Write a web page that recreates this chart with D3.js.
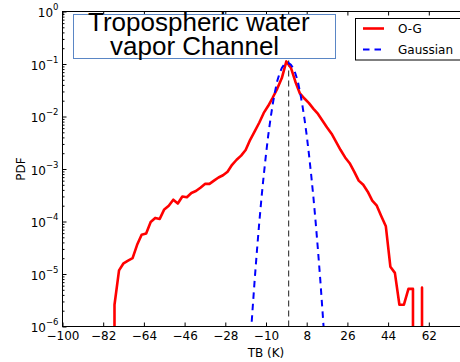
<!DOCTYPE html>
<html>
<head>
<meta charset="utf-8">
<script src="https://cdn.jsdelivr.net/npm/d3@7"></script>
<style>
  html, body { margin: 0; padding: 0; background: #fff; }
  svg { display: block; }
</style>
</head>
<body>
<svg id="chart" width="460" height="362"></svg>
<script>
// O-G departure histogram (2 K bins), PDF values; 0 = empty bin
const binCenters = [-79, -77, -75, -73, -71, -69, -67, -65, -63, -61, -59, -57, -55, -53, -51, -49, -47, -45, -43, -41,
  -39, -37, -35, -33, -31, -29, -27, -25, -23, -21, -19, -17, -15, -13, -11, -9, -7, -5, -3, -1,
  1, 3, 5, 7, 9, 11, 13, 15, 17, 19, 21, 23, 25, 27, 29, 31, 33, 35, 37, 39,
  41, 43, 45, 47, 49, 51, 53, 55, 57, 59, 61];
const ogPdf = [0, 2.6e-6, 1.17e-5, 1.6e-5, 1.8e-5, 2.0e-5, 3.6e-5, 5.6e-5, 5.9e-5, 9.8e-5, 1.17e-4, 1.12e-4, 1.7e-4, 2.0e-4, 2.6e-4, 2.2e-4, 3.0e-4, 2.9e-4, 3.5e-4, 3.8e-4,
  4.4e-4, 5.2e-4, 5.2e-4, 6.0e-4, 6.9e-4, 7.6e-4, 8.9e-4, 1.2e-3, 1.5e-3, 1.8e-3, 2.3e-3, 3.6e-3, 5.2e-3, 7.6e-3, 1.17e-2, 1.6e-2, 2.3e-2, 3.4e-2, 5.4e-2, 0.112,
  8.5e-2, 4.6e-2, 2.75e-2, 2.2e-2, 1.8e-2, 1.4e-2, 1.12e-2, 8.3e-3, 6.2e-3, 4.7e-3, 3.3e-3, 2.3e-3, 1.66e-3, 1.29e-3, 8.9e-4, 6.0e-4, 5.0e-4, 3.7e-4, 2.5e-4, 2.0e-4,
  1.26e-4, 8.1e-5, 1.38e-5, 1.05e-5, 2.6e-6, 2.6e-6, 5.2e-6, 5.2e-6, 0, 5.5e-6, 0];

// Fitted Gaussian reference curve
const gaussX = [-17, -16, -15, -14, -13, -12, -11, -10, -9, -8, -7, -6, -5, -4, -3, -2, -1,
  0, 1, 2, 3, 4, 5, 6, 7, 8, 9, 10, 11, 12, 13, 14, 15, 16];
const gaussPdf = [4.5e-7, 1.95e-6, 7.8e-6, 2.8e-5, 9.3e-5, 2.8e-4, 7.6e-4, 1.9e-3, 4.4e-3, 9.1e-3, 1.74e-2, 3.0e-2, 4.8e-2, 6.6e-2, 8.4e-2, 0.097, 0.104,
  0.104, 0.097, 8.4e-2, 6.6e-2, 4.8e-2, 3.0e-2, 1.74e-2, 9.1e-3, 4.4e-3, 1.9e-3, 7.6e-4, 2.8e-4, 9.3e-5, 2.8e-5, 7.8e-6, 1.95e-6, 4.5e-7];

const referenceTB = 0;

const xTicks = [-100, -82, -64, -46, -28, -10, 8, 26, 44, 62];
const yTicks = [1e-6, 1e-5, 1e-4, 1e-3, 1e-2, 1e-1, 1];
const yTickExponents = ["\u22126", "\u22125", "\u22124", "\u22123", "\u22122", "\u22121", "0"];

const titleLines = ["Tropospheric water", "vapor Channel"];
const legendLabels = ["O-G", "Gaussian"];
const xLabel = "TB (K)";
const yLabel = "PDF";

const FONT = "'DejaVu Sans', sans-serif";
const svg = d3.select("#chart");

const x = d3.scaleLinear().domain([-100, 80]).range([62.5, 469.5]);
const y = d3.scaleLog().domain([1e-6, 1]).range([326.5, 11.5]);
const [x0, x1] = x.range();
const [y0, y1] = y.range();

svg.append("defs").append("clipPath").attr("id", "plotClip")
  .append("rect").attr("x", x0).attr("y", y1).attr("width", x1 - x0).attr("height", y0 - y1);

// empty bins are pushed far below the axis, giving vertical drops
const yv = p => y(Math.max(p, 1e-300));

const plot = svg.append("g").attr("clip-path", "url(#plotClip)");

plot.append("line")
  .attr("x1", x(referenceTB)).attr("x2", x(referenceTB))
  .attr("y1", y0).attr("y2", y1)
  .attr("stroke", "#444").attr("stroke-width", 1.2).attr("stroke-dasharray", "6,4");

const ogLine = d3.line().x((d, i) => x(binCenters[i])).y(d => yv(d));
plot.append("path").datum(ogPdf)
  .attr("d", ogLine)
  .attr("fill", "none").attr("stroke", "#ff0000").attr("stroke-width", 2.6)
  .attr("stroke-linejoin", "round");

const gLine = d3.line().x((d, i) => x(gaussX[i])).y(d => yv(d));
plot.append("path").datum(gaussPdf)
  .attr("d", gLine)
  .attr("fill", "none").attr("stroke", "#0000ff").attr("stroke-width", 2)
  .attr("stroke-dasharray", "6.5,5");

// axes with inward ticks
const gx = svg.append("g").attr("transform", `translate(0,${y0})`)
  .call(d3.axisBottom(x).tickValues(xTicks).tickSize(-4).tickSizeOuter(0).tickPadding(5)
    .tickFormat(d => d3.format("d")(d).replace("-", "\u2212")));
gx.select(".domain").remove();
gx.selectAll("text").attr("font-family", FONT).attr("font-size", 12).attr("fill", "#000");

const gt = svg.append("g").attr("transform", `translate(0,${y1})`)
  .call(d3.axisTop(x).tickValues(xTicks).tickSize(-4).tickSizeOuter(0).tickFormat(""));
gt.select(".domain").remove();

const minorTicks = [];
yTicks.slice(0, -1).forEach(t => { for (let k = 2; k <= 9; k++) minorTicks.push(t * k); });

const gym = svg.append("g").attr("transform", `translate(${x0},0)`)
  .call(d3.axisLeft(y).tickValues(minorTicks).tickSize(-2).tickSizeOuter(0).tickFormat(""));
gym.select(".domain").remove();

const gy = svg.append("g").attr("transform", `translate(${x0},0)`)
  .call(d3.axisLeft(y).tickValues(yTicks).tickSize(-4).tickSizeOuter(0).tickPadding(4).tickFormat(""));
gy.select(".domain").remove();
gy.selectAll(".tick text").each(function (d, i) {
  const t = d3.select(this);
  t.text(null).attr("dy", "0.42em").attr("font-family", FONT).attr("font-size", 12).attr("fill", "#000");
  t.append("tspan").text("10");
  t.append("tspan").attr("dy", -6.8).attr("font-size", 8.5).text(yTickExponents[i]);
});

svg.selectAll(".tick line").attr("stroke", "#000");

// frame
svg.append("rect").attr("x", x0).attr("y", y1).attr("width", x1 - x0).attr("height", y0 - y1)
  .attr("fill", "none").attr("stroke", "#000").attr("stroke-width", 1);

// axis labels
svg.append("text").attr("x", (x0 + x1) / 2).attr("y", 357)
  .attr("text-anchor", "middle").attr("font-family", FONT).attr("font-size", 12).text(xLabel);
svg.append("text").attr("transform", `translate(25,${(y0 + y1) / 2}) rotate(-90)`)
  .attr("text-anchor", "middle").attr("font-family", FONT).attr("font-size", 12).text(yLabel);

// title box
const tb = svg.append("g");
tb.append("rect").attr("x", 73.5).attr("y", 14.5).attr("width", 262).attr("height", 44)
  .attr("fill", "#fff").attr("stroke", "#5a86c5").attr("stroke-width", 1);
tb.append("text").attr("x", 88).attr("y", 30.8)
  .attr("font-family", "'Liberation Sans', Arial, sans-serif").attr("font-size", 26).text(titleLines[0]);
tb.append("text").attr("x", 110).attr("y", 55)
  .attr("font-family", "'Liberation Sans', Arial, sans-serif").attr("font-size", 26).text(titleLines[1]);

// legend
const lg = svg.append("g");
lg.append("rect").attr("x", 355.5).attr("y", 18.5).attr("width", 112).attr("height", 41.5)
  .attr("fill", "#fff").attr("stroke", "#000").attr("stroke-width", 1);
lg.append("line").attr("x1", 363).attr("x2", 384).attr("y1", 28.5).attr("y2", 28.5)
  .attr("stroke", "#ff0000").attr("stroke-width", 2.6);
lg.append("line").attr("x1", 363).attr("x2", 384).attr("y1", 49.5).attr("y2", 49.5)
  .attr("stroke", "#0000ff").attr("stroke-width", 2).attr("stroke-dasharray", "6.5,5");
lg.append("text").attr("x", 398).attr("y", 32.5).attr("font-family", FONT).attr("font-size", 12).text(legendLabels[0]);
lg.append("text").attr("x", 398).attr("y", 53.5).attr("font-family", FONT).attr("font-size", 12).text(legendLabels[1]);
</script>
</body>
</html>
